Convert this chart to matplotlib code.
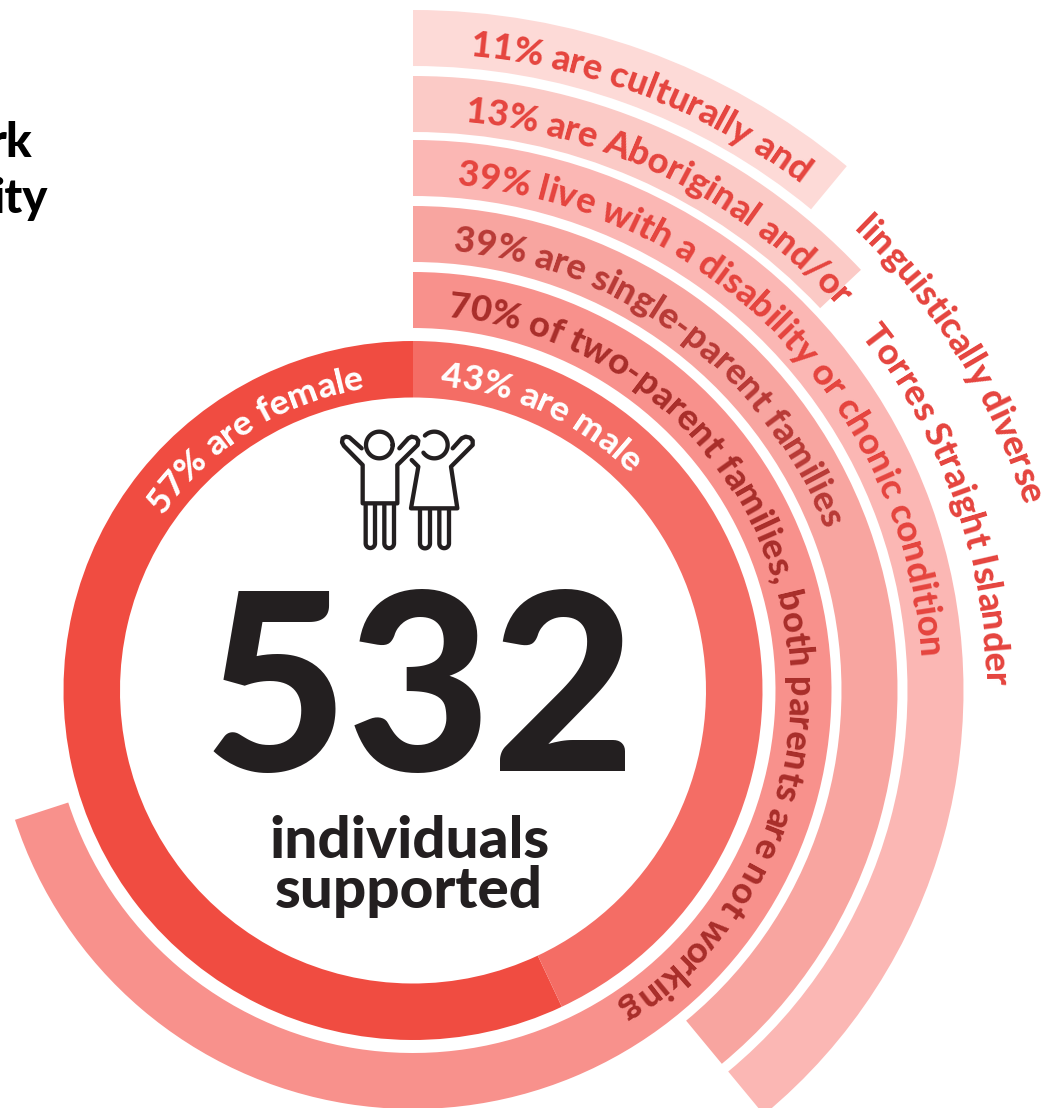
import numpy as np
import matplotlib
matplotlib.use('Agg')
import matplotlib.pyplot as plt
from matplotlib.font_manager import FontProperties
from matplotlib.patches import Wedge
from matplotlib.textpath import text_to_path

# shares, in percent
gender_labels = ['57% are female', '43% are male']
gender_pct = [57, 43]
gender_colors = ['#F04C41', '#F46D65']

ring_pct = [70, 39, 39, 13, 11]
ring_colors = ['#F8918C', '#F8A5A0', '#FBB7B4', '#FBCAC6', '#FDDAD7']
ring_text_colors = ['#A82E2A', '#B83A36', '#E5443E', '#E5443E', '#E5443E']
ring_texts = [
    ['70% of two-parent families, both parents are not working'],
    ['39% are single-parent families'],
    ['39% live with a disability or chonic condition'],
    ['13% are Aboriginal and/or', 'Torres Straight Islander'],
    ['11% are culturally and', 'linguistically diverse'],
]
ring_text_starts = [[5.2], [5.2], [5.0], [5.2, 51.5], [5.1, 43.7]]

total = '532'
caption_lines = ['individuals', 'supported']

CX, CY = 413, 690.5
RING_W = 56
INNER_R = (293, 349.5)
RING_OUTER = [418.5, 484.5, 550.5, 614.5, 680.5]
FONT = 'Lato'

fig = plt.figure(figsize=(10.49, 11.08), dpi=100)
ax = fig.add_axes([0, 0, 1, 1])
ax.set_xlim(0, 1049)
ax.set_ylim(1108, 0)
ax.axis('off')


def wedge(r_out, width, a1, a2, color):
    # angles are clockwise from 12 o'clock (y axis is flipped)
    ax.add_patch(Wedge((CX, CY), r_out, a1 - 90, a2 - 90, width=width, color=color, lw=0))


def arc_text(s, r, start, size, color, spacing=0.0):
    prop = FontProperties(family=FONT, weight='black', size=size)
    px = 100 / 72

    def width(t):
        return text_to_path.get_text_width_height_descent(t, prop, False)[0] * px

    for i, ch in enumerate(s):
        mid = width(s[:i + 1]) - width(ch) / 2 + spacing * i
        a = np.radians(start) + mid / r
        x = CX + r * np.sin(a)
        y = CY - r * np.cos(a)
        ax.text(x, y, ch, fontproperties=prop, color=color, rotation=-np.degrees(a),
                rotation_mode='anchor', ha='center', va='baseline')


# centre ring
female_deg = gender_pct[0] * 3.6
male_deg = gender_pct[1] * 3.6
wedge(INNER_R[1], INNER_R[1] - INNER_R[0], -female_deg, 0, gender_colors[0])
wedge(INNER_R[1], INNER_R[1] - INNER_R[0], 0, male_deg, gender_colors[1])
arc_text(gender_labels[0], 306, -55, 25.5, 'white')
arc_text(gender_labels[1], 306, 5.1, 25.5, 'white')

# outer rings
for i in range(len(ring_pct)):
    wedge(RING_OUTER[i], RING_W, 0, ring_pct[i] * 3.6, ring_colors[i])
    r_base = RING_OUTER[i] - 43.5
    for s, start in zip(ring_texts[i], ring_text_starts[i]):
        arc_text(s, r_base, start, 26, ring_text_colors[i])

ax.text(420, 771, total, family=FONT, weight='black', size=179, color='#231F20',
        ha='center', va='baseline')
ax.text(409, 858, caption_lines[0], family=FONT, weight='black', size=42, color='#231F20',
        ha='center', va='baseline')
ax.text(409, 908, caption_lines[1], family=FONT, weight='black', size=42, color='#231F20',
        ha='center', va='baseline')

# cut-off heading at the left edge
ax.text(32, 157, 'rk', family=FONT, weight='black', size=34, color='black', ha='right', va='baseline')
ax.text(48, 213, 'ity', family=FONT, weight='black', size=34, color='black', ha='right', va='baseline')


# children icon, drawn on a 3x grid and scaled back to figure pixels
def icon(xs, ys):
    ax.plot(320 + np.array(xs) / 3, 410 + np.array(ys) / 3, color='#231F20', lw=3.1,
            solid_capstyle='round', solid_joinstyle='round')


def head(cx, cy, r, t1, t2):
    t = np.radians(np.linspace(t1, t2, 80))
    icon(cx + r * np.cos(t), cy + r * np.sin(t))


def leg(x1, x2, top, bottom):
    t = np.radians(np.linspace(180, 0, 30))
    xc = (x1 + x2) / 2
    r = (x2 - x1) / 2
    icon(np.r_[x1, xc + r * np.cos(t), x2], np.r_[top, bottom + r * np.sin(t), top])


head(178, 105, 40, 0, 360)
head(343, 105, 40, -135, 145)
icon([125, 88, 78, 68, 66, 72, 128, 128, 232, 232, 293, 295, 288, 275, 265, 238],
     [115, 82, 80, 85, 97, 108, 165, 280, 280, 165, 105, 92, 83, 80, 85, 115])
icon([275, 295, 273, 412, 393, 458, 458, 450, 437, 425, 398],
     [150, 170, 295, 295, 170, 105, 92, 83, 80, 85, 115])
leg(137, 165, 285, 400)
leg(193, 222, 285, 400)
leg(300, 330, 298, 400)
leg(358, 387, 298, 400)

fig.savefig('out.png', dpi=100)
